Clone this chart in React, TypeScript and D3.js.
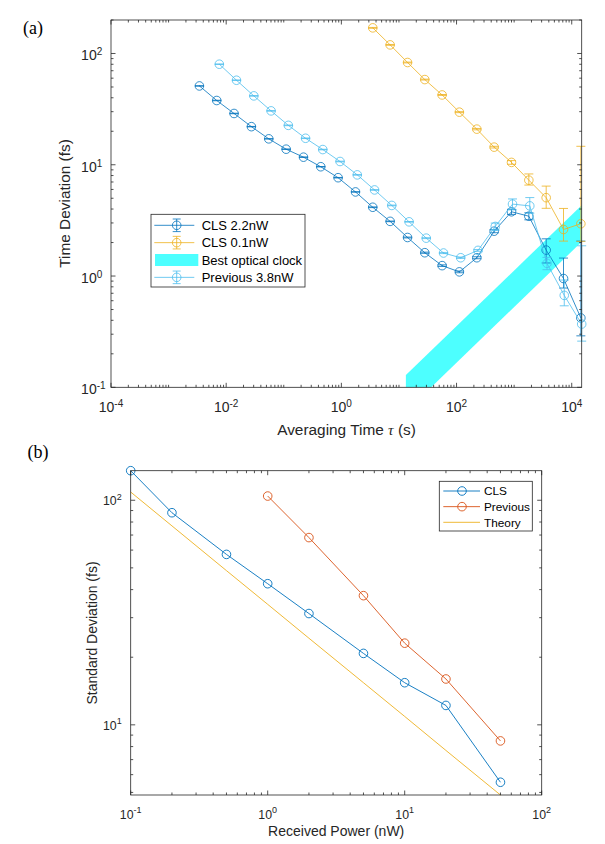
import * as d3 from 'd3';

// ---------- panel (a): time deviation vs averaging time ----------
const tauCls22 = [0.00343, 0.00686, 0.0137, 0.0274, 0.0549, 0.110, 0.220, 0.439, 0.878, 1.76, 3.51, 7.03, 14.1, 28.1, 56.2, 112, 225, 450, 900, 1800, 3600, 7200, 14400];
const devCls22 = [51.1, 37.8, 28.9, 22.0, 17.1, 13.8, 11.7, 9.6, 7.65, 5.70, 4.15, 3.10, 2.22, 1.62, 1.24, 1.09, 1.46, 2.53, 3.78, 3.45, 1.71, 0.95, 0.42];
const loCls22 = [0.3, 0.2, 0.15, 0.1, 0.08, 0.06, 0.05, 0.04, 0.04, 0.03, 0.03, 0.02, 0.02, 0.02, 0.02, 0.02, 0.03, 0.08, 0.2, 0.25, 0.4, 0.17, 0.13];
const hiCls22 = [0.3, 0.2, 0.15, 0.1, 0.08, 0.06, 0.05, 0.04, 0.04, 0.03, 0.03, 0.02, 0.02, 0.02, 0.02, 0.02, 0.03, 0.08, 0.2, 0.25, 0.45, 0.5, 1.64];

const tauCls01 = [3.51, 7.03, 14.1, 28.1, 56.2, 112, 225, 450, 900, 1800, 3600, 7200, 14400];
const devCls01 = [170, 119.5, 83, 58.3, 42.4, 29.7, 20.9, 14.4, 10.5, 7.27, 5.06, 2.62, 2.95];
const loCls01 = [1.5, 1, 0.7, 0.5, 0.4, 0.3, 0.3, 0.25, 0.4, 0.7, 1.0, 0.56, 0.9];
const hiCls01 = [1.5, 1, 0.7, 0.5, 0.4, 0.3, 0.3, 0.25, 0.4, 1.0, 1.37, 1.43, 11.7];

const tauPrev = [0.0076, 0.0151, 0.0302, 0.0602, 0.120, 0.239, 0.476, 0.949, 1.89, 3.77, 7.51, 15.0, 29.8, 59.4, 118, 236, 470, 937, 1870, 3720, 7420, 14900];
const devPrev = [80.1, 57.5, 41.6, 30.5, 22.6, 17.3, 13.7, 10.7, 8.11, 5.94, 4.31, 3.07, 2.19, 1.61, 1.46, 1.70, 2.79, 4.43, 4.27, 1.30, 0.67, 0.37];
const loPrev = [0.5, 0.35, 0.25, 0.2, 0.15, 0.1, 0.08, 0.07, 0.05, 0.04, 0.03, 0.02, 0.02, 0.02, 0.02, 0.03, 0.2, 0.5, 0.6, 0.16, 0.13, 0.11];
const hiPrev = [0.5, 0.35, 0.25, 0.2, 0.15, 0.1, 0.08, 0.07, 0.05, 0.04, 0.03, 0.02, 0.02, 0.02, 0.02, 0.03, 0.2, 0.5, 0.8, 0.17, 0.25, 1.5];

// best optical clock band (edges in log-log)
const bandTau = [13.2, 14900];
const bandLow = [0.0604, 2.03];
const bandHigh = [0.129, 4.33];

const xTicksA = [1e-4, 1e-2, 1, 1e2, 1e4];
const xExpA = ['-4', '-2', '0', '2', '4'];
const yTicksA = [0.1, 1, 10, 100];
const yExpA = ['-1', '0', '1', '2'];

// ---------- panel (b): standard deviation vs received power ----------
const powerCls = [0.1, 0.2, 0.5, 1, 2, 5, 10, 20, 50];
const stdCls = [135.4, 88.0, 57.4, 42.5, 31.3, 20.8, 15.4, 12.2, 5.55];
const powerPrev = [1, 2, 5, 10, 20, 50];
const stdPrev = [104.4, 68.2, 37.6, 23.1, 16.0, 8.48];
const powerTheory = [0.1, 0.2, 0.5, 1, 2, 5, 10, 20, 50];
const stdTheory = [108.8, 76.9, 48.6, 34.4, 24.3, 15.4, 10.9, 7.69, 4.87];

const xTicksB = [0.1, 1, 10, 100];
const xExpB = ['-1', '0', '1', '2'];
const yTicksB = [10, 100];
const yExpB = ['1', '2'];

const C_BLUE = '#0072BD';
const C_YELLOW = '#EDB120';
const C_LIGHT = '#4DBEEE';
const C_ORANGE = '#D95319';
const C_CYAN = '#4DFFFF';
const AX = '#262626';
const SANS = '"Liberation Sans", Arial, Helvetica, sans-serif';
const SERIF = '"Liberation Serif", "Times New Roman", serif';

type Sc = d3.ScaleLogarithmic<number, number>;

function Frame({ x, y, xMajor, xExp, yMajor, yExp, fs, sfs, xLabY, xSupDy, yBaseDy, ySupDy, yLabGap }: {
  x: Sc; y: Sc; xMajor: number[]; xExp: string[]; yMajor: number[]; yExp: string[];
  fs: number; sfs: number; xLabY: number; xSupDy: number; yBaseDy: number; ySupDy: number; yLabGap: number;
}) {
  const [x0, x1] = x.range();
  const [y0, y1] = y.range(); // y0 bottom, y1 top
  const isMajor = (v: number, arr: number[]) => arr.some(m => Math.abs(Math.log10(v) - Math.log10(m)) < 1e-6);
  const xMinor = x.ticks().filter(v => !isMajor(v, xMajor));
  const yMinor = y.ticks().filter(v => !isMajor(v, yMajor));
  const maj = 4.5, min = 2.5;
  return (
    <g stroke={AX} strokeWidth={0.8}>
      <rect x={x0} y={y1} width={x1 - x0} height={y0 - y1} fill="none" />
      {xMinor.map((v, i) => (
        <g key={'xm' + i}>
          <line x1={x(v)} x2={x(v)} y1={y0} y2={y0 - min} />
          <line x1={x(v)} x2={x(v)} y1={y1} y2={y1 + min} />
        </g>
      ))}
      {xMajor.map((v, i) => (
        <g key={'xM' + i}>
          <line x1={x(v)} x2={x(v)} y1={y0} y2={y0 - maj} />
          <line x1={x(v)} x2={x(v)} y1={y1} y2={y1 + maj} />
          <text x={x(v)} y={xLabY} textAnchor="middle" stroke="none" fill={AX} fontSize={fs} fontFamily={SANS}>
            10<tspan dy={xSupDy} fontSize={sfs}>{xExp[i]}</tspan>
          </text>
        </g>
      ))}
      {yMinor.map((v, i) => (
        <g key={'ym' + i}>
          <line x1={x0} x2={x0 + min} y1={y(v)} y2={y(v)} />
          <line x1={x1} x2={x1 - min} y1={y(v)} y2={y(v)} />
        </g>
      ))}
      {yMajor.map((v, i) => (
        <g key={'yM' + i}>
          <line x1={x0} x2={x0 + maj} y1={y(v)} y2={y(v)} />
          <line x1={x1} x2={x1 - maj} y1={y(v)} y2={y(v)} />
          <text x={x0 - yLabGap} y={y(v) + yBaseDy} textAnchor="end" stroke="none" fill={AX} fontSize={fs} fontFamily={SANS}>10</text>
          <text x={x0 - yLabGap} y={y(v) + ySupDy} stroke="none" fill={AX} fontSize={sfs} fontFamily={SANS}>{yExp[i]}</text>
        </g>
      ))}
    </g>
  );
}

function ErrSeries({ x, y, xs, ys, lo, hi, color }: { x: Sc; y: Sc; xs: number[]; ys: number[]; lo: number[]; hi: number[]; color: string }) {
  const line = d3.line<number>().x((_, i) => x(xs[i])).y(d => y(d));
  const cap = 4.5;
  return (
    <g stroke={color} fill="none" strokeWidth={0.8}>
      <path d={line(ys) ?? ''} />
      {ys.map((v, i) => {
        const px = x(xs[i]);
        const top = y(v + hi[i]);
        const bot = y(Math.max(v - lo[i], 1e-6));
        return (
          <g key={i}>
            <line x1={px} x2={px} y1={top} y2={bot} />
            <line x1={px - cap} x2={px + cap} y1={top} y2={top} />
            <line x1={px - cap} x2={px + cap} y1={bot} y2={bot} />
            <circle cx={px} cy={y(v)} r={4.3} />
          </g>
        );
      })}
    </g>
  );
}

function MarkSeries({ x, y, xs, ys, color, marker }: { x: Sc; y: Sc; xs: number[]; ys: number[]; color: string; marker: boolean }) {
  const line = d3.line<number>().x((_, i) => x(xs[i])).y(d => y(d));
  return (
    <g stroke={color} fill="none" strokeWidth={0.9}>
      <path d={line(ys) ?? ''} />
      {marker && ys.map((v, i) => <circle key={i} cx={x(xs[i])} cy={y(v)} r={4.3} />)}
    </g>
  );
}

export default function App() {
  // panel (a) scales
  const xa = d3.scaleLog().domain([1e-4, 14900]).range([111, 581.7]);
  const ya = d3.scaleLog().domain([0.1, 200]).range([387.3, 20]);
  // panel (b) scales
  const xb = d3.scaleLog().domain([0.1, 100]).range([130.7, 541.7]);
  const yb = d3.scaleLog().domain([4.87, 135.4]).range([795, 470.7]);

  const bandPts = [
    ...bandTau.map((t, i) => [xa(t), ya(bandLow[i])]),
    ...bandTau.map((t, i) => [xa(t), ya(bandHigh[i])]).reverse(),
  ];

  const legA = [
    { name: 'CLS 2.2nW', color: C_BLUE, kind: 'err' },
    { name: 'CLS 0.1nW', color: C_YELLOW, kind: 'err' },
    { name: 'Best optical clock', color: C_CYAN, kind: 'patch' },
    { name: 'Previous 3.8nW', color: C_LIGHT, kind: 'err' },
  ];
  const legB = [
    { name: 'CLS', color: C_BLUE, marker: true },
    { name: 'Previous', color: C_ORANGE, marker: true },
    { name: 'Theory', color: C_YELLOW, marker: false },
  ];

  return (
    <div style={{ position: 'absolute', left: 0, top: 0 }}>
      <svg width={605} height={844} viewBox="0 0 605 844" style={{ display: 'block', background: '#fff' }}>
        <defs>
          <clipPath id="clipA">
            <rect x={111} y={20} width={470.7} height={367.3} />
          </clipPath>
        </defs>

        {/* ---- panel (a) ---- */}
        <text x={33} y={34} textAnchor="middle" fontSize={18} fontFamily={SERIF} fill="#000">(a)</text>
        <polygon points={bandPts.map(p => p.join(',')).join(' ')} fill={C_CYAN} clipPath="url(#clipA)" />
        <ErrSeries x={xa} y={ya} xs={tauCls22} ys={devCls22} lo={loCls22} hi={hiCls22} color={C_BLUE} />
        <ErrSeries x={xa} y={ya} xs={tauCls01} ys={devCls01} lo={loCls01} hi={hiCls01} color={C_YELLOW} />
        <ErrSeries x={xa} y={ya} xs={tauPrev} ys={devPrev} lo={loPrev} hi={hiPrev} color={C_LIGHT} />
        <Frame x={xa} y={ya} xMajor={xTicksA} xExp={xExpA} yMajor={yTicksA} yExp={yExpA}
          fs={14} sfs={10} xLabY={411.7} xSupDy={-5.2} yBaseDy={7} ySupDy={2} yLabGap={14.3} />
        <text x={346.5} y={434.5} textAnchor="middle" fontSize={15.4} fontFamily={SANS} fill={AX}>
          Averaging Time <tspan fontFamily={SERIF} fontStyle="italic">τ</tspan> (s)
        </text>
        <text transform="translate(70,203.5) rotate(-90)" textAnchor="middle" fontSize={15.4} fontFamily={SANS} fill={AX}>
          Time Deviation (fs)
        </text>

        {/* legend (a) */}
        <g>
          <rect x={151} y={214.3} width={154} height={72.7} fill="#fff" stroke={AX} strokeWidth={0.8} />
          {legA.map((d, i) => {
            const cy = 225.3 + i * 17.35;
            return (
              <g key={d.name}>
                {d.kind === 'patch' ? (
                  <rect x={155} y={cy - 6} width={43.3} height={12} fill={d.color} />
                ) : (
                  <g stroke={d.color} fill="none" strokeWidth={0.8}>
                    <line x1={154.3} x2={194.3} y1={cy} y2={cy} />
                    <line x1={176.7} x2={176.7} y1={cy - 6.3} y2={cy + 6.3} />
                    <line x1={172.7} x2={180.7} y1={cy - 6.3} y2={cy - 6.3} />
                    <line x1={172.7} x2={180.7} y1={cy + 6.3} y2={cy + 6.3} />
                    <circle cx={176.7} cy={cy} r={4.3} />
                  </g>
                )}
                <text x={201.7} y={cy + 4.6} fontSize={13} fontFamily={SANS} fill="#000">{d.name}</text>
              </g>
            );
          })}
        </g>

        {/* ---- panel (b) ---- */}
        <text x={38} y={457.5} textAnchor="middle" fontSize={18} fontFamily={SERIF} fill="#000">(b)</text>
        <MarkSeries x={xb} y={yb} xs={powerTheory} ys={stdTheory} color={C_YELLOW} marker={false} />
        <MarkSeries x={xb} y={yb} xs={powerCls} ys={stdCls} color={C_BLUE} marker />
        <MarkSeries x={xb} y={yb} xs={powerPrev} ys={stdPrev} color={C_ORANGE} marker />
        <Frame x={xb} y={yb} xMajor={xTicksB} xExp={xExpB} yMajor={yTicksB} yExp={yExpB}
          fs={12.3} sfs={9} xLabY={818.5} xSupDy={-6} yBaseDy={5} ySupDy={-0.5} yLabGap={14} />
        <text x={336.2} y={836} textAnchor="middle" fontSize={14} fontFamily={SANS} fill={AX}>
          Received Power (nW)
        </text>
        <text transform="translate(97,633) rotate(-90)" textAnchor="middle" fontSize={14} fontFamily={SANS} fill={AX}>
          Standard Deviation (fs)
        </text>

        {/* legend (b) */}
        <g>
          <rect x={439.3} y={481.3} width={93} height={49.7} fill="#fff" stroke={AX} strokeWidth={0.8} />
          {legB.map((d, i) => {
            const cy = 491 + i * 15.65;
            return (
              <g key={d.name}>
                <g stroke={d.color} fill="none" strokeWidth={0.9}>
                  <line x1={443.3} x2={480} y1={cy} y2={cy} />
                  {d.marker && <circle cx={462} cy={cy} r={4.3} />}
                </g>
                <text x={484} y={cy + 4.2} fontSize={11.8} fontFamily={SANS} fill="#000">{d.name}</text>
              </g>
            );
          })}
        </g>
      </svg>
    </div>
  );
}
